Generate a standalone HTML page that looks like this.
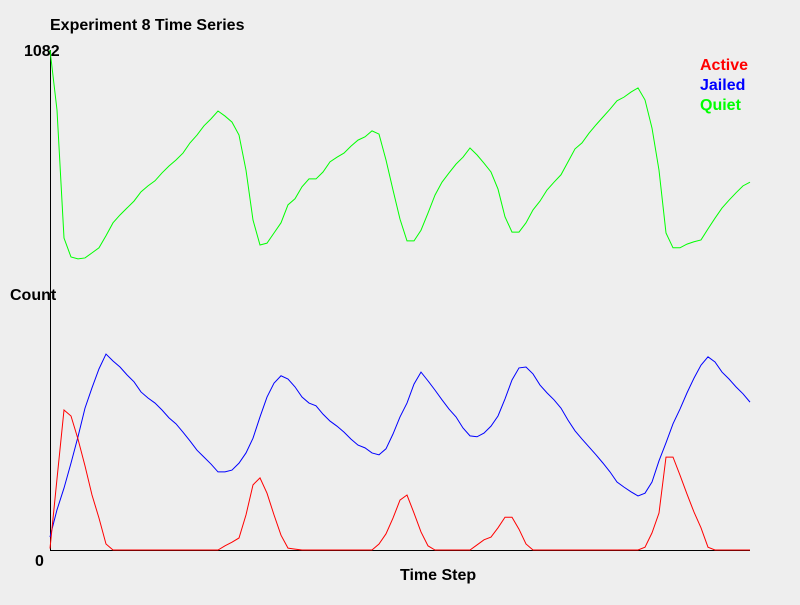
<!DOCTYPE html>
<html><head><meta charset="utf-8"><style>
html,body{margin:0;padding:0;background:#eeeeee;}
svg text{font-family:"Liberation Sans",sans-serif;font-weight:bold;}
</style></head><body>
<svg id="chart" width="800" height="600" xmlns="http://www.w3.org/2000/svg">
<rect width="800" height="600" fill="#eeeeee"/>
<text x="50" y="30" font-size="16" fill="#000">Experiment 8 Time Series</text>
<text x="24" y="56" font-size="16" fill="#000">1082</text>
<text x="35" y="566" font-size="16" fill="#000">0</text>
<text x="10" y="300" font-size="16" fill="#000">Count</text>
<text x="400" y="580" font-size="16" fill="#000">Time Step</text>
<line x1="50.5" y1="50" x2="50.5" y2="550" stroke="#000" shape-rendering="crispEdges"/>
<line x1="50" y1="550.5" x2="750" y2="550.5" stroke="#000" shape-rendering="crispEdges"/>
<g id="series"></g>
<text x="700" y="70" font-size="16" fill="#ff0000">Active</text>
<text x="700" y="90" font-size="16" fill="#0000ff">Jailed</text>
<text x="700" y="110" font-size="16" fill="#00ff00">Quiet</text>
</svg>
<script>
const yMax = 1082;
const xMax = 100;
const quiet = [1082,952,675,634,630,632,643,654,680,708,725,740,755,775,788,799,816,831,844,859,881,898,918,933,950,939,926,898,822,714,660,664,686,708,747,760,786,803,803,818,840,850,859,874,887,894,907,900,844,779,716,669,669,692,729,768,796,816,835,850,870,855,837,818,781,721,688,688,708,736,755,779,796,812,840,868,881,902,920,937,954,972,980,991,1000,974,913,822,686,654,654,662,667,671,695,718,740,757,773,788,796];
const jailed = [28,87,134,188,245,307,351,392,424,409,396,379,364,342,329,318,303,286,273,255,236,216,201,186,169,169,173,188,210,242,288,331,361,377,370,353,331,318,312,294,279,268,255,240,227,221,210,206,219,251,288,318,359,385,366,346,325,305,288,264,247,245,253,268,290,327,368,394,396,381,357,340,325,307,281,258,240,223,206,188,169,147,136,126,117,123,147,193,232,273,305,340,372,400,418,407,385,370,353,338,320];
const active = [3,154,303,290,240,182,119,69,13,0,0,0,0,0,0,0,0,0,0,0,0,0,0,0,0,9,17,26,76,141,156,123,76,32,4,2,0,0,0,0,0,0,0,0,0,0,0,13,35,69,108,119,80,39,9,0,0,0,0,0,0,11,22,28,48,71,71,45,13,0,0,0,0,0,0,0,0,0,0,0,0,0,0,0,0,6,37,80,201,201,162,121,82,48,6,0,0,0,0,0,0];
function xs(i){return 50 + i*700/xMax;}
function ys(v){return 550 - v*500/yMax;}
const g = document.getElementById('series');
function draw(data, color, name){
  const p = document.createElementNS('http://www.w3.org/2000/svg','polyline');
  p.setAttribute('points', data.map((v,i)=>xs(i).toFixed(2)+','+ys(v).toFixed(2)).join(' '));
  p.setAttribute('fill','none');
  p.setAttribute('stroke',color);
  p.setAttribute('stroke-width','1');
  
  
  g.appendChild(p);
}
draw(quiet,'#00ff00','quiet-line');
draw(jailed,'#0000ff','jailed-line');
draw(active,'#ff0000','active-line');
</script>
</body></html>
